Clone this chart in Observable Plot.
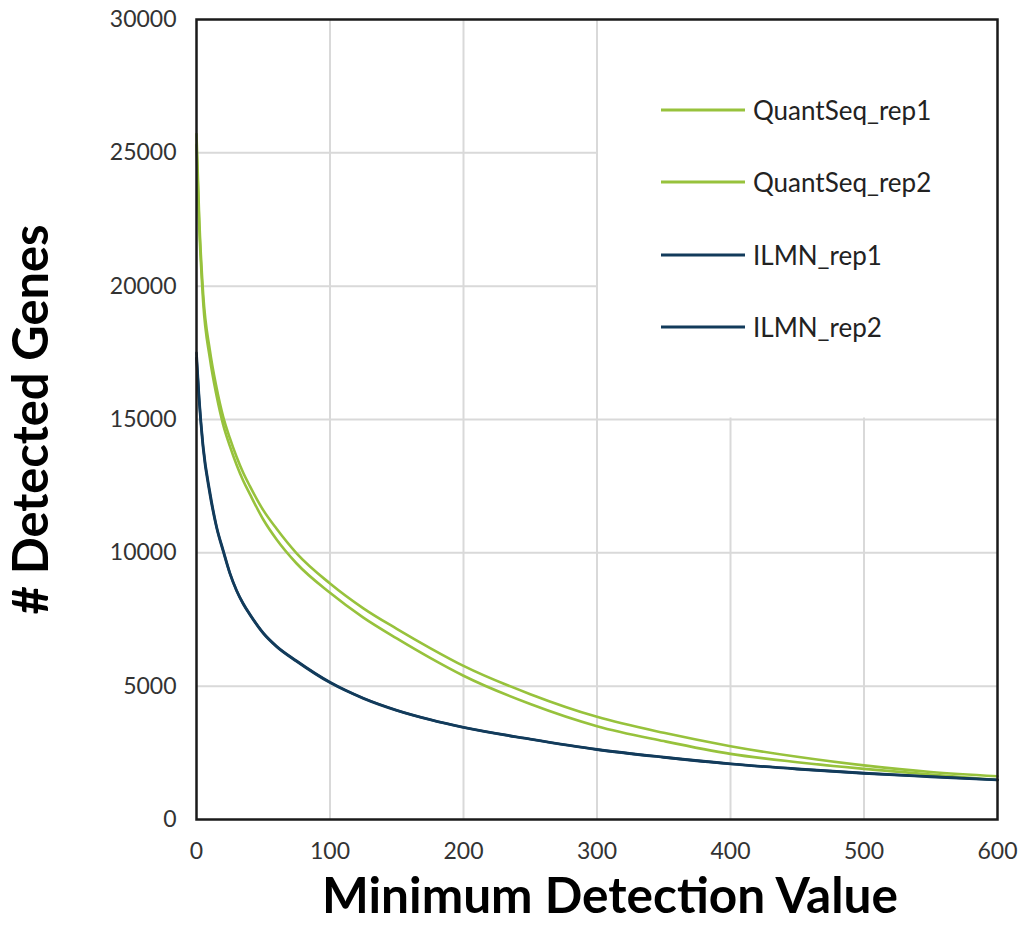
<!DOCTYPE html>
<html><head><meta charset="utf-8">
<script src="https://cdn.jsdelivr.net/npm/d3@7"></script>
<script src="https://cdn.jsdelivr.net/npm/@observablehq/plot@0.6"></script>
<style>
body{margin:0;background:#fff;}
#wrap{position:relative;width:1021px;height:936px;}
.legend{position:absolute;left:661px;top:74px;font-family:Lato,sans-serif;font-size:26px;color:#222;}
.row{display:flex;align-items:center;height:72.3px;}
.row svg{margin-right:8px;}
</style>
</head><body><div id="wrap"></div>
<script>
const seriesNames = ["QuantSeq_rep1", "QuantSeq_rep2", "ILMN_rep1", "ILMN_rep2"];
const seriesColors = ["#97c23c", "#97c23c", "#123b5b", "#123b5b"];
const minDetection = [0,2,5,10,15,20,25,30,35,40,50,60,75,100,125,150,175,200,250,300,350,400,450,500,550,600];
const quantSeqRep1 = [25700,22600,19700,17600,16200,15100,14300,13600,13000,12500,11600,10900,9980,8850,7920,7150,6430,5760,4700,3850,3250,2750,2350,2030,1780,1620];
const quantSeqRep2 = [25300,22300,19400,17300,15900,14800,14000,13300,12700,12200,11250,10500,9600,8500,7570,6790,6060,5390,4330,3500,2940,2460,2150,1900,1690,1480];
const ilmnRep1 = [17500,15800,14000,12300,11000,10100,9250,8600,8100,7700,7000,6500,5950,5150,4550,4100,3750,3460,3020,2630,2340,2090,1900,1740,1610,1490];
const ilmnRep2 = [17300,15700,13900,12200,10950,10050,9220,8580,8080,7680,6980,6480,5930,5130,4540,4090,3740,3450,3010,2620,2330,2080,1890,1730,1600,1480];
const xTicks = [0,100,200,300,400,500,600];
const yTicks = [0,5000,10000,15000,20000,25000,30000];
const xGrid = [100,200,300,400,500];
const yGrid = [5000,10000,15000,20000,25000];
const legendBox = [{x1:300, x2:600, y1:15000, y2:30000}];
const xTitle = "Minimum Detection Value";
const yTitle = "# Detected Genes";

const allSeries = [quantSeqRep1, quantSeqRep2, ilmnRep1, ilmnRep2];
const rows = [];
seriesNames.forEach((name, i) => {
  minDetection.forEach((x, j) => rows.push({series: name, x, y: allSeries[i][j]}));
});

const chart = Plot.plot({
  width: 1021,
  height: 936,
  marginLeft: 196,
  marginRight: 24,
  marginTop: 19,
  marginBottom: 117,
  style: {fontFamily: "Lato, sans-serif", fontSize: "23px", color: "#333", background: "#fff"},
  x: {domain: [0, 600], ticks: xTicks, tickSize: 0, tickPadding: 23, label: null, tickFormat: d => String(d)},
  y: {domain: [0, 30000], ticks: yTicks, tickSize: 0, tickPadding: 20, label: null, tickFormat: d => String(d)},
  color: {domain: seriesNames, range: seriesColors},
  marks: [
    Plot.ruleX(xGrid, {stroke: "#d9d9d9", strokeWidth: 2}),
    Plot.ruleY(yGrid, {stroke: "#d9d9d9", strokeWidth: 2}),
    Plot.rect(legendBox, {x1: "x1", x2: "x2", y1: "y1", y2: "y2", fill: "#fff", insetLeft: 1.5, insetBottom: 1.5, insetTop: -2, insetRight: -2}),
    Plot.line(rows, {x: "x", y: "y", z: "series", stroke: "series", strokeWidth: 2.6, curve: "monotone-x"}),
    Plot.frame({stroke: "#1a1a1a", strokeWidth: 2.5}),
    Plot.text([yTitle], {frameAnchor: "left", textAnchor: "middle", dx: -165, rotate: -90, fontSize: 50, fontWeight: "bold", fill: "#000", className: "ytitle"}),
    Plot.text([xTitle], {frameAnchor: "bottom", textAnchor: "middle", dx: 13, dy: 93, fontSize: 50, fontWeight: "bold", fill: "#000", className: "xtitle"})
  ]
});

d3.select(chart).selectAll(".xtitle text").attr("textLength", 576).attr("lengthAdjust", "spacingAndGlyphs");
d3.select(chart).selectAll(".ytitle text").attr("textLength", 390).attr("lengthAdjust", "spacingAndGlyphs");

const wrap = document.getElementById("wrap");
wrap.appendChild(chart);

const legend = document.createElement("div");
legend.className = "legend";
seriesNames.forEach((name, i) => {
  const row = document.createElement("div");
  row.className = "row";
  row.innerHTML = `<svg width="84" height="10"><line x1="0" x2="84" y1="5" y2="5" stroke="${seriesColors[i]}" stroke-width="3"/></svg><span>${name}</span>`;
  legend.appendChild(row);
});
wrap.appendChild(legend);
</script></body></html>
